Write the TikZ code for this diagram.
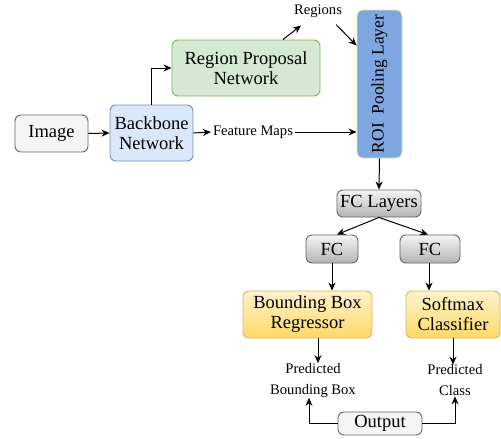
\documentclass[tikz,border=0pt]{standalone}
\usepackage{fontspec}
\setmainfont{Liberation Serif}
\usetikzlibrary{arrows.meta,shadings,calc}
\definecolor{grayfill}{HTML}{F5F5F5}
\definecolor{grayline}{HTML}{666666}
\definecolor{grayshade}{HTML}{B3B3B3}
\definecolor{bluefill}{HTML}{DAE8FC}
\definecolor{blueline}{HTML}{6C8EBF}
\definecolor{greenfill}{HTML}{D5E8D4}
\definecolor{greenline}{HTML}{82B366}
\definecolor{roifill}{HTML}{7EA6E0}
\definecolor{roiline}{HTML}{DCE8B0}
\definecolor{yeltop}{HTML}{FFF2CC}
\definecolor{yelbot}{HTML}{FFD966}
\definecolor{yelline}{HTML}{D6B656}
\tikzset{
  bigtext/.style={font=\fontsize{18.5}{20}\selectfont, align=center},
  smalltext/.style={font=\fontsize{14.6}{21}\selectfont, align=center, inner sep=2pt},
  boxbase/.style={bigtext, rounded corners=6pt, line width=0.9pt, inner sep=0pt},
  graybox/.style={boxbase, draw=grayline, fill=grayfill},
  shadedgray/.style={boxbase, draw=grayline, top color=grayfill, bottom color=grayshade},
  bluebox/.style={boxbase, draw=blueline, fill=bluefill},
  greenbox/.style={boxbase, draw=greenline, fill=greenfill},
  roibox/.style={boxbase, draw=roiline, fill=roifill},
  yellowbox/.style={boxbase, draw=yelline, top color=yeltop, bottom color=yelbot},
  conn/.style={line width=1pt, -{Stealth[length=8pt,width=7pt]}}
}
\begin{document}
\begin{tikzpicture}[x=1pt,y=-1pt]
\useasboundingbox (0,0) rectangle (501,439);

% boxes
\node[graybox, minimum width=73pt, minimum height=37pt] (img) at (51.5,133.5) {Image};
\node[bluebox, minimum width=83pt, minimum height=56pt] (bb) at (151.5,133) {Backbone\\Network};
\node[greenbox, minimum width=148pt, minimum height=56pt] (rpn) at (246,68) {Region Proposal\\Network};
\node[roibox, minimum width=45pt, minimum height=148pt] (roi) at (379.5,84) {};
\node[bigtext, rotate=90, font=\fontsize{17.5}{20}\selectfont] at (roi.center) {ROI\ \ Pooling Layer};
\node[shadedgray, minimum width=84pt, minimum height=27pt] (fcl) at (379,203.5) {FC Layers};
\node[shadedgray, minimum width=52pt, minimum height=28pt] (fc1) at (332,249) {FC};
\node[shadedgray, minimum width=60pt, minimum height=28pt] (fc2) at (430,249) {FC};
\node[yellowbox, minimum width=129pt, minimum height=47pt] (bbr) at (307.5,314.5) {Bounding Box\\Regressor};
\node[yellowbox, minimum width=94pt, minimum height=47pt] (sm) at (453,314.5) {Softmax\\Classifier};
\node[graybox, minimum width=84pt, minimum height=23pt] (out) at (380,423.5) {Output};

% labels
\node[smalltext] (reg) at (318,11) {Regions};
\node[smalltext] (fm) at (253,132) {Feature Maps};
\node[smalltext] (pbb) at (313,380.5) {Predicted\\Bounding Box};
\node[smalltext] (pc) at (455,380.5) {Predicted\\Class};

% connectors
\draw[conn] (img.east) -- (bb.west);
\draw[conn] (bb.north) |- (rpn.west);
\draw[conn] (bb.east) -- (fm.west);
\draw[conn] (fm.east) -- (fm.east -| roi.west);
\draw[conn] ([xshift=37pt]rpn.north) -- ([xshift=9pt,yshift=-6pt]reg.south west);
\draw[conn] ([xshift=-8pt,yshift=-5pt]reg.south east) -- ([yshift=-36pt]roi.north west);
\draw[conn] (roi.south) -- (fcl.north);
\draw[conn] (fcl.south) -- ([xshift=5pt]fc1.north);
\draw[conn] (fcl.south) -- ([xshift=-2pt]fc2.north);
\draw[conn] (fc1.south) -- (fc1.south |- bbr.north);
\draw[conn] ([xshift=-1pt]fc2.south) -- ([xshift=-1pt]fc2.south |- sm.north);
\draw[conn] ([xshift=5pt]pbb.north |- bbr.south) -- ([xshift=5pt,yshift=-2pt]pbb.north);
\draw[conn] ([xshift=-2pt]pc.north |- sm.south) -- ([xshift=-2pt,yshift=-2pt]pc.north);
\draw[conn] (out.west) -| ([xshift=-4pt,yshift=2pt]pbb.south);
\draw[conn] (out.east) -| ([yshift=2pt]pc.south);
\end{tikzpicture}
\end{document}
